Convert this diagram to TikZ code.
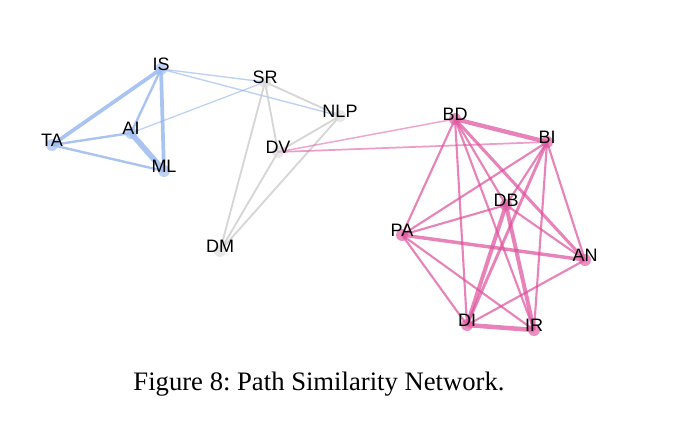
\documentclass[tikz,border=0pt]{standalone}
\usepackage{fontspec}
\setmainfont{Liberation Serif}
\newfontfamily\lblfont{Liberation Sans}
\usetikzlibrary{backgrounds}
\definecolor{blueE}{RGB}{140,176,236}
\definecolor{pinkE}{RGB}{222,78,155}
\definecolor{grayE}{RGB}{200,200,200}
\frenchspacing
\begin{document}
\begin{tikzpicture}[x=0.75pt,y=-0.75pt]
    \tikzset{
      dot/.style={circle,inner sep=0pt,minimum size=9pt,opacity=0.7},
      bdot/.style={dot,fill=blueE!80},
      gdot/.style={dot,fill=grayE!60},
      pdot/.style={dot,fill=pinkE!90},
      lbl/.style={font=\lblfont\fontsize{13.5}{13.5}\selectfont,text=black,inner sep=0pt,yshift=3.5pt},
      bl/.style={blueE,opacity=0.75,line width=1.8pt},
      gl/.style={grayE,opacity=0.75,line width=1.4pt},
      pl/.style={pinkE,opacity=0.7,line width=1.6pt}
    }
    \useasboundingbox (0,0) rectangle (680,427);
    \node[bdot,label={[lbl]center:IS}] (IS) at (161,69) {};
    \node[bdot,label={[lbl]center:AI}] (AI) at (131,133) {};
    \node[bdot,label={[lbl]center:TA}] (TA) at (52,145) {};
    \node[bdot,label={[lbl]center:ML}] (ML) at (164,171) {};
    \node[gdot,label={[lbl]center:SR}] (SR) at (265,82) {};
    \node[gdot,label={[lbl]center:NLP}] (NLP) at (340,116) {};
    \node[gdot,label={[lbl]center:DV}] (DV) at (278,152) {};
    \node[gdot,label={[lbl]center:DM}] (DM) at (220,251) {};
    \node[pdot,label={[lbl]center:BD}] (BD) at (455,119) {};
    \node[pdot,label={[lbl]center:BI}] (BI) at (547,142) {};
    \node[pdot,label={[lbl]center:DB}] (DB) at (506,205) {};
    \node[pdot,label={[lbl]center:PA}] (PA) at (402,235) {};
    \node[pdot,label={[lbl]center:AN}] (AN) at (585,260) {};
    \node[pdot,label={[lbl]center:DI}] (DI) at (467,325) {};
    \node[pdot,label={[lbl]center:IR}] (IR) at (534,330) {};
    \node[font=\fontsize{20}{20}\selectfont] (cap) at (319,384) {Figure 8: Path Similarity Network.};
    \begin{scope}[on background layer]
    \draw[bl,line width=2.8pt] (IS.center) -- (TA.center);
    \draw[bl,line width=2.8pt] (IS.center) -- (ML.center);
    \draw[bl,line width=4.2pt] (AI.center) -- (ML.center);
    \draw[bl] (IS.center) -- (AI.center);
    \draw[bl] (AI.center) -- (TA.center);
    \draw[bl] (TA.center) -- (ML.center);
    \draw[bl,line width=1pt,opacity=0.6] (IS.center) -- (SR.center);
    \draw[bl,line width=1pt,opacity=0.6] (IS.center) -- (NLP.center);
    \draw[bl,line width=0.9pt,opacity=0.6] (AI.center) -- (SR.center);
    \draw[gl] (SR.center) -- (NLP.center);
    \draw[gl] (SR.center) -- (DV.center);
    \draw[gl] (SR.center) -- (DM.center);
    \draw[gl] (NLP.center) -- (DV.center);
    \draw[gl] (NLP.center) -- (DM.center);
    \draw[gl] (DV.center) -- (DM.center);
    \draw[pl,line width=1.1pt,opacity=0.5] (DV.center) -- (BD.center);
    \draw[pl,line width=1.3pt,opacity=0.55] (DV.center) -- (BI.center);
    \draw[pl,line width=3.2pt] (BD.center) -- (BI.center);
    \draw[pl] (BD.center) -- (PA.center);
    \draw[pl] (BD.center) -- (DI.center);
    \draw[pl] (BD.center) -- (DB.center);
    \draw[pl] (BD.center) -- (IR.center);
    \draw[pl,line width=2.3pt] (BD.center) -- (AN.center);
    \draw[pl] (BI.center) -- (PA.center);
    \draw[pl] (BI.center) -- (DB.center);
    \draw[pl,line width=2.2pt] (BI.center) -- (DI.center);
    \draw[pl] (BI.center) -- (IR.center);
    \draw[pl] (BI.center) -- (AN.center);
    \draw[pl] (DB.center) -- (PA.center);
    \draw[pl,line width=3pt] (DB.center) -- (DI.center);
    \draw[pl,line width=3pt] (DB.center) -- (IR.center);
    \draw[pl] (DB.center) -- (AN.center);
    \draw[pl,line width=2.6pt] (PA.center) -- (AN.center);
    \draw[pl] (PA.center) -- (DI.center);
    \draw[pl] (PA.center) -- (IR.center);
    \draw[pl,line width=3.4pt] (DI.center) -- (IR.center);
    \draw[pl] (DI.center) -- (AN.center);
    \end{scope}
\end{tikzpicture}
\end{document}
